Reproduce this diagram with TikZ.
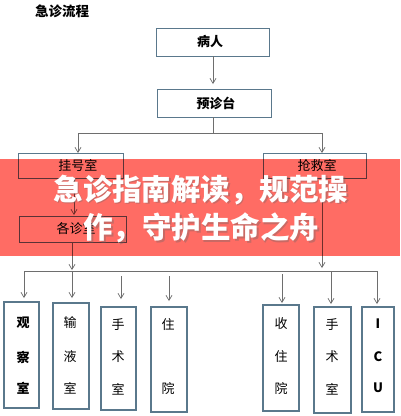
\documentclass[tikz,border=0pt]{standalone}
\usepackage{fontspec}
\newfontfamily\cjk{Noto Sans CJK SC}
\usetikzlibrary{arrows.meta}
\definecolor{boxline}{RGB}{90,120,140}
\definecolor{conn}{RGB}{110,110,110}
\definecolor{banner}{RGB}{255,108,100}
\tikzset{
  fbox/.style={draw=boxline,line width=0.9pt,inner sep=0pt},
  vbox/.style={draw=boxline,line width=1.1pt,inner sep=0pt},
  arr/.style={draw=conn,line width=0.7pt,-{Straight Barb[length=5pt,width=6pt]}},
  ln/.style={draw=conn,line width=0.7pt},
  lbl/.style={font=\cjk\fontsize{13}{15}\selectfont,inner sep=0pt},
  blbl/.style={font=\cjk\bfseries\fontsize{13}{15}\selectfont,inner sep=0pt},
  bantxt/.style={font=\cjk\bfseries\fontsize{29.5}{31}\selectfont,inner sep=0pt},
}
\begin{document}
\begin{tikzpicture}[x=1pt,y=-1pt]
\useasboundingbox (0,0) rectangle (400,416);
\fill[white] (0,0) rectangle (400,416);
% title
\node[blbl,font=\cjk\bfseries\fontsize{13.5}{15}\selectfont] (title) at (62,11) {急诊流程};
% top boxes
\node[fbox,minimum width=113pt,minimum height=28pt] (br) at (212.5,42) {};
\node[blbl] (brt) at (210,42) {病人};
\node[fbox,minimum width=114pt,minimum height=28pt] (yz) at (214,103) {};
\node[blbl] (yzt) at (216,103) {预诊台};
\draw[arr] (213,56) -- (213,84);
\coordinate (s0) at (213,117);
\coordinate (s1) at (213,133);
\coordinate (sl) at (78,133);
\coordinate (sr) at (322,133);
\draw[ln] (s0) -- (s1);
\draw[ln] (sl) -- (sr);
% second level
\node[fbox,minimum width=105pt,minimum height=25pt] (gh) at (70.5,165.5) {};
\node[lbl] (ght) at (78,165) {挂号室};
\node[fbox,minimum width=103pt,minimum height=25pt] (qj) at (314.5,165.5) {};
\node[lbl] (qjt) at (317,165) {抢救室};
\draw[arr] (sl) -- (78,153);
\draw[arr] (sr) -- (322,153);
\node[fbox,minimum width=107pt,minimum height=26pt] (gz) at (72.5,229) {};
\node[lbl] (gzt) at (76,229) {各诊室};
\draw[arr] (74,178) -- (74,215);
% bus
\coordinate (bl) at (24,271);
\coordinate (br2) at (377,271);
\draw[ln] (bl) -- (br2);
\draw[arr] (72,242) -- (72,270);
\draw[arr] (322,178) -- (322,268);
% leaves
\draw[arr] (24,271) -- (24,298);
\draw[arr] (72,271) -- (72,298);
\draw[arr] (121,276) -- (121,299);
\draw[arr] (169,276) -- (169,301);
\draw[arr] (282,274) -- (282,303);
\draw[arr] (331,271) -- (331,304);
\draw[arr] (377,271) -- (377,304);
\node[vbox,minimum width=35pt,minimum height=106pt] (l1) at (21.5,355) {};
\node[vbox,minimum width=36pt,minimum height=106pt] (l2) at (71,356) {};
\node[vbox,minimum width=35pt,minimum height=103pt] (l3) at (118.5,358.5) {};
\node[vbox,minimum width=36pt,minimum height=105pt] (l4) at (169,359.5) {};
\node[vbox,minimum width=36pt,minimum height=106pt] (r1) at (281,358) {};
\node[vbox,minimum width=37pt,minimum height=106pt] (r2) at (332.5,360) {};
\node[vbox,minimum width=32pt,minimum height=105pt] (r3) at (378,359.5) {};
\node[blbl] (t11) at (23,323) {观};
\node[blbl] (t12) at (23,357) {察};
\node[blbl] (t13) at (23,388) {室};
\node[lbl] (t21) at (70,323) {输};
\node[lbl] (t22) at (70,357) {液};
\node[lbl] (t23) at (70,388) {室};
\node[lbl] (t31) at (118,325) {手};
\node[lbl] (t32) at (118,357) {术};
\node[lbl] (t33) at (118,389) {室};
\node[lbl] (t41) at (168,325) {住};
\node[lbl] (t42) at (168,388) {院};
\node[lbl] (t51) at (281,324) {收};
\node[lbl] (t52) at (281,357) {住};
\node[lbl] (t53) at (281,388) {院};
\node[lbl] (t61) at (332,325) {手};
\node[lbl] (t62) at (332,357) {术};
\node[lbl] (t63) at (332,389) {室};
\node[blbl] (t71) at (378,324) {I};
\node[blbl] (t72) at (378,357) {C};
\node[blbl] (t73) at (378,388) {U};
% banner
\begin{scope}[blend mode=multiply]
\fill[banner] (0,159) rectangle (400,256);
\end{scope}
\node[bantxt,text=black!60,opacity=0.35] (sh1) at (202.5,191.5) {急诊指南解读，规范操};
\node[bantxt,text=black!60,opacity=0.35] (sh2) at (203,229.5) {作，守护生命之舟};
\node[bantxt,text=white] (ban1) at (201,190) {急诊指南解读，规范操};
\node[bantxt,text=white] (ban2) at (201.5,228) {作，守护生命之舟};
\end{tikzpicture}
\end{document}
